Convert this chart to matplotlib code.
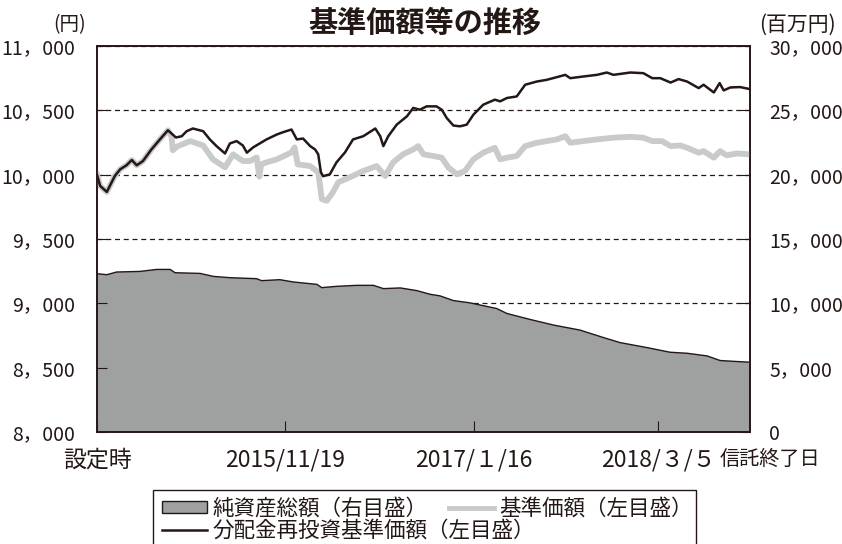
import pandas as pd
import matplotlib.pyplot as plt
from matplotlib.lines import Line2D
from matplotlib.patches import Patch, Rectangle

plt.rcParams['font.family'] = ['Noto Sans CJK JP', 'DejaVu Sans']

# --- data ---
launch = pd.Timestamp("2014-09-24")
end_day = 1464  # 信託終了日, days after launch

# 分配金再投資基準価額 (円)
reinv_days = [0, 7, 22, 40, 52, 66, 78, 89, 103, 122, 141, 159, 177, 190, 201, 215,
              238, 253, 268, 287, 298, 313, 327, 336, 350, 365, 380, 403, 417, 436,
              448, 462, 478, 489, 496, 502, 507, 522, 537, 556, 574, 597, 624, 635,
              642, 653, 672, 695, 709, 724, 739, 761, 773, 784, 799, 814, 829, 844,
              866, 892, 904, 919, 941, 960, 986, 1008, 1031, 1050, 1061, 1090, 1121,
              1143, 1158, 1196, 1225, 1245, 1263, 1286, 1304, 1323, 1349, 1360, 1383,
              1396, 1405, 1420, 1442, 1464]
reinv_values = [10000, 9913, 9866, 9990, 10042, 10073, 10114, 10073, 10106, 10196,
                10274, 10345, 10289, 10299, 10338, 10359, 10338, 10274, 10222, 10165,
                10243, 10261, 10227, 10171, 10212, 10243, 10274, 10312, 10330, 10351,
                10274, 10281, 10222, 10196, 10158, 10019, 9988, 10003, 10096, 10173,
                10274, 10299, 10359, 10299, 10222, 10299, 10389, 10454, 10519, 10505,
                10531, 10531, 10505, 10441, 10382, 10376, 10389, 10467, 10544, 10583,
                10570, 10596, 10608, 10699, 10724, 10737, 10758, 10776, 10750, 10763,
                10776, 10794, 10776, 10794, 10789, 10750, 10750, 10716, 10743, 10724,
                10673, 10699, 10639, 10712, 10655, 10678, 10681, 10665]

# 基準価額 (円)
nav_days = [0, 7, 22, 40, 52, 66, 78, 89, 103, 122, 141, 159, 167, 170, 180, 209,
            238, 260, 287, 305, 327, 343, 358, 364, 368, 380, 403, 436, 443, 450,
            478, 496, 504, 515, 529, 541, 567, 597, 627, 646, 664, 686, 709, 720,
            732, 754, 773, 788, 807, 825, 844, 866, 892, 904, 919, 941, 960, 986,
            1008, 1031, 1050, 1061, 1090, 1121, 1155, 1196, 1225, 1245, 1267, 1286,
            1308, 1323, 1349, 1360, 1383, 1397, 1412, 1434, 1464]
nav_values = [10000, 9913, 9866, 9990, 10042, 10073, 10114, 10073, 10106, 10196,
              10274, 10345, 10300, 10190, 10220, 10261, 10227, 10119, 10057, 10158,
              10106, 10106, 10134, 9985, 10080, 10096, 10119, 10173, 10212, 10080,
              10067, 10019, 9810, 9797, 9864, 9941, 9980, 10029, 10067, 9990, 10096,
              10158, 10196, 10222, 10158, 10145, 10132, 10055, 10003, 10029, 10119,
              10171, 10209, 10119, 10132, 10145, 10222, 10248, 10261, 10274, 10299,
              10248, 10261, 10274, 10287, 10294, 10287, 10261, 10261, 10222, 10227,
              10209, 10171, 10183, 10132, 10183, 10150, 10165, 10158]

# 純資産総額 (百万円)
asset_days = [0, 22, 44, 96, 134, 164, 175, 231, 261, 298, 358, 369, 410, 440, 493,
              504, 537, 582, 620, 642, 680, 717, 747, 769, 799, 836, 896, 919, 971,
              1024, 1083, 1136, 1173, 1233, 1285, 1323, 1368, 1397, 1434, 1464]
asset_values = [12303, 12226, 12434, 12481, 12636, 12636, 12380, 12326, 12094, 11994,
                11916, 11762, 11839, 11661, 11476, 11221, 11321, 11398, 11398, 11143,
                11198, 10989, 10703, 10580, 10216, 10039, 9598, 9212, 8748, 8308,
                7921, 7334, 6947, 6561, 6198, 6120, 5912, 5556, 5478, 5425]

tick_dates = ["2015-11-19", "2017-01-16", "2018-03-05"]
tick_labels = ["2015/11/19", "2017/１/16", "2018/３/５"]


def to_dates(days):
    return launch + pd.to_timedelta(days, unit="D")


ink = "#231815"
gray_line = "#c9caca"
gray_area = "#9fa0a0"

fig = plt.figure(figsize=(8.42, 5.44), dpi=100)
ax = fig.add_axes([0.1152, 0.2059, 0.7755, 0.7095])
ax2 = ax.twinx()
ax.set_zorder(ax2.get_zorder() + 1)
ax.patch.set_visible(False)

# net assets on the right scale; the area hides the dashed grid
ax2.set_axisbelow(True)
ax2.yaxis.grid(True, linestyle=(0, (4, 3)), color=ink, linewidth=0.9)
ax2.fill_between(to_dates(asset_days), asset_values, 0, facecolor=gray_area,
                 edgecolor="none")
ax2.plot(to_dates(asset_days), asset_values, color=ink, lw=1.0)
ax2.set_ylim(0, 30000)
ax2.set_yticks(range(0, 30001, 5000))
ax2.set_yticklabels([f"{v:,}".replace(",", "，") for v in range(0, 30001, 5000)])

# prices on the left scale
ax.plot(to_dates(nav_days), nav_values, color=gray_line, lw=4.2, solid_joinstyle="round")
ax.plot(to_dates(reinv_days), reinv_values, color=ink, lw=1.8)
ax.set_ylim(8000, 11000)
ax.set_yticks(range(8000, 11001, 500))
ax.set_yticklabels([f"{v:,}".replace(",", "，") for v in range(8000, 11001, 500)])

ax.set_xlim(launch, to_dates([end_day])[0])
ax.set_xticks([launch] + list(pd.to_datetime(tick_dates)))
ax.set_xticklabels(["設定時"] + tick_labels)

for a in (ax, ax2):
    for s in a.spines.values():
        s.set_color(ink)
        s.set_linewidth(1.2)
ax.tick_params(axis="y", direction="in", length=7, pad=16, labelsize=14, colors=ink)
ax2.tick_params(axis="y", direction="in", length=7, pad=14, labelsize=14, colors=ink)
ax.tick_params(axis="x", direction="in", length=8, pad=12, labelsize=16.5, colors=ink)

ax.annotate("信託終了日", xy=(1, 0), xycoords="axes fraction", xytext=(14, -12),
            textcoords="offset points", ha="center", va="top", fontsize=14.5, color=ink)

fig.text(0.5048, 0.958, "基準価額等の推移", ha="center", va="center",
         fontsize=21, fontweight="bold", color=ink)
fig.text(70 / 842, 1 - 25 / 544, "(円)", ha="center", va="center", fontsize=14, color=ink)
fig.text(797 / 842, 1 - 25 / 544, "(百万円)", ha="center", va="center", fontsize=15, color=ink)

# legend: two free rows inside one box
leg_kw = dict(frameon=False, fontsize=15.5, handlelength=2.1, handleheight=0.5,
              handletextpad=0.25, columnspacing=1.0, borderpad=0, borderaxespad=0,
              labelcolor=ink)
fig.legend([Patch(facecolor=gray_area, edgecolor=ink, linewidth=1.0),
            Line2D([], [], color=gray_line, lw=3.5)],
           ["純資産総額（右目盛）", "基準価額（左目盛）"], ncol=2, loc="center left",
           bbox_to_anchor=(162 / 842, 1 - 508.5 / 544), **leg_kw)
fig.legend([Line2D([], [], color=ink, lw=1.8)], ["分配金再投資基準価額（左目盛）"],
           loc="center left", bbox_to_anchor=(162 / 842, 1 - 531 / 544), **leg_kw)
fig.add_artist(Rectangle((153 / 842, -0.01), 543 / 842, 54 / 544 + 0.01,
                         transform=fig.transFigure, fill=False, edgecolor=ink, lw=1.0))

fig.savefig("out.png", dpi=100)
